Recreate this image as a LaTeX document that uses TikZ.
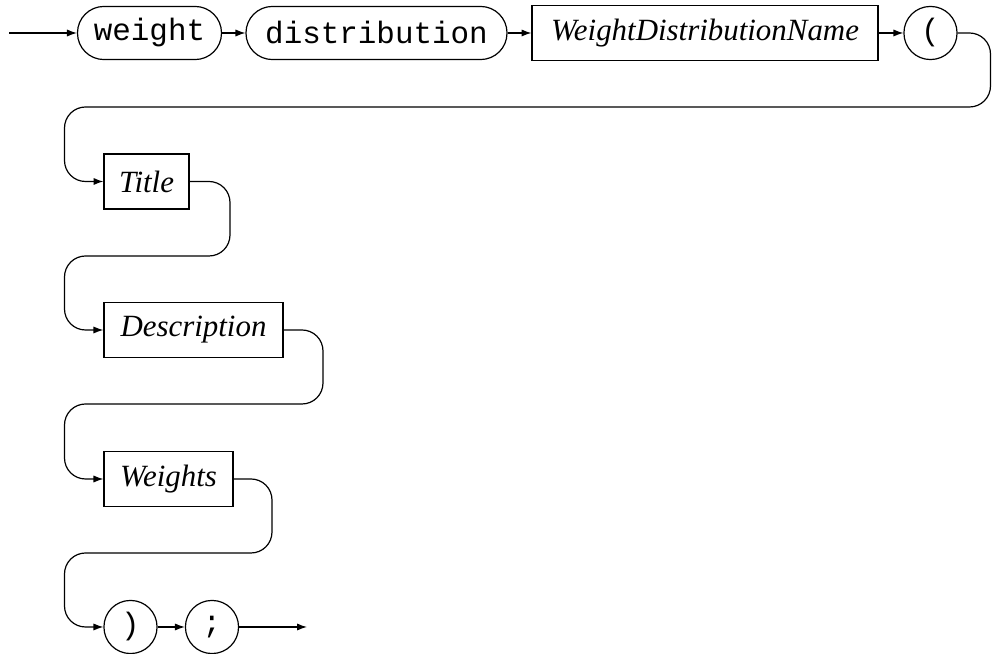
\documentclass[tikz,border=0pt]{standalone}
\usepackage{fontspec}
\setmainfont{Liberation Serif}
\setmonofont{Liberation Mono}
\usetikzlibrary{arrows.meta}

\tikzset{
  term/.style={draw, rounded corners=8.8pt, minimum height=17.7pt, inner sep=0pt, font=\fontsize{10.3}{12}\selectfont\ttfamily},
  nonterm/.style={draw, minimum height=18.3pt, inner sep=0pt, font=\fontsize{10.3}{12}\selectfont\itshape},
  flow/.style={-{Latex[length=3.3pt,width=2.4pt]}},
  turn/.style={flow, rounded corners=7pt}
}

\begin{document}
\begin{tikzpicture}[x=0.3333pt, y=-0.3333pt]
    \useasboundingbox (0,0) rectangle (992,654);

    % first line
    \coordinate (start) at (9,33);
    \node[term, minimum width=48pt] (weight) at (149.5,33) {weight};
    \node[term, minimum width=87pt] (distribution) at (376.5,33) {distribution};
    \node[nonterm, minimum width=115.3pt] (wdname) at (705,33) {WeightDistributionName};
    \node[term, minimum width=17.7pt] (lparen) at (930.5,33) {(};

    \draw[flow] (start) -- (weight);
    \draw[flow] (weight) -- (distribution);
    \draw[flow] (distribution) -- (wdname);
    \draw[flow] (wdname) -- (lparen);

    % one item per line
    \node[nonterm, minimum width=28.3pt] (title) at (146.5,181.5) {Title};
    \node[nonterm, minimum width=59.7pt] (descr) at (193.5,330) {Description};
    \node[nonterm, minimum width=43pt] (weights) at (168.5,479) {Weights};

    % closing
    \node[term, minimum width=17.7pt] (rparen) at (130.5,627) {)};
    \node[term, minimum width=17.7pt] (semi) at (212,627) {;};
    \coordinate (finish) at (307,627);

    \draw[flow] (rparen) -- (semi);
    \draw[flow] (semi) -- (finish);

    % wrap round to the next line
    \draw[turn] (lparen.east) -- (990.5,33) -- (990.5,107) -- (64.5,107) -- (64.5,181.5) -- (title.west);
    \draw[turn] (title.east) -- (230,181.5) -- (230,256) -- (64.5,256) -- (64.5,330) -- (descr.west);
    \draw[turn] (descr.east) -- (323,330) -- (323,404) -- (64.5,404) -- (64.5,479) -- (weights.west);
    \draw[turn] (weights.east) -- (272,479) -- (272,553) -- (64.5,553) -- (64.5,627) -- (rparen.west);

\end{tikzpicture}
\end{document}
